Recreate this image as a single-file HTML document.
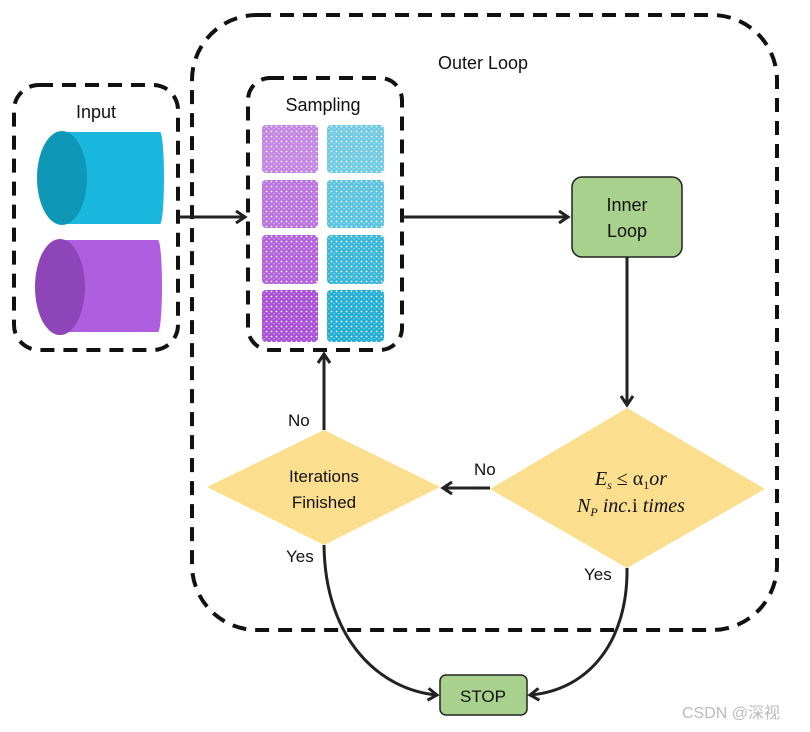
<!DOCTYPE html>
<html><head><style>
body{margin:0;background:#fff;width:810px;height:727px;overflow:hidden;font-family:"Liberation Sans",sans-serif}
</style></head><body>
<svg width="810" height="727" xmlns="http://www.w3.org/2000/svg">
<defs>
<marker id="a" markerWidth="14" markerHeight="14" refX="11" refY="7" orient="auto" markerUnits="userSpaceOnUse">
<path d="M2,1 L11,7 L2,13" fill="none" stroke="#222" stroke-width="3"/></marker>
<pattern id="pp" width="5" height="5" patternUnits="userSpaceOnUse"><rect width="5" height="5" fill="#a94fd6"/><circle cx="1.5" cy="1.5" r=".9" fill="#fff"/><circle cx="4" cy="3.8" r=".6" fill="#eedcf8"/></pattern>
<pattern id="pc" width="5" height="5" patternUnits="userSpaceOnUse"><rect width="5" height="5" fill="#22aed3"/><circle cx="1.5" cy="1.5" r=".9" fill="#fff"/><circle cx="4" cy="3.8" r=".6" fill="#d8f2fa"/></pattern>
</defs>
<g fill="none" stroke="#111" stroke-width="4" stroke-dasharray="14,9">
<rect x="192" y="15" width="585" height="615" rx="65"/>
<rect x="14" y="85" width="164" height="265" rx="25"/>
<rect x="248" y="78" width="154" height="272" rx="22"/>
</g>
<text x="483" y="69" font-size="18" text-anchor="middle" fill="#111">Outer Loop</text>
<text x="96" y="118" font-size="18" text-anchor="middle" fill="#111">Input</text>
<text x="323" y="111" font-size="18" text-anchor="middle" fill="#111">Sampling</text>
<rect x="62" y="132" width="98" height="92" fill="#1ab8de"/>
<ellipse cx="160" cy="178" rx="4" ry="46" fill="#1ab8de"/>
<ellipse cx="62" cy="178" rx="25" ry="47" fill="#0f97b8"/>
<rect x="60" y="240" width="98" height="92" fill="#b05ee0"/>
<ellipse cx="158" cy="286" rx="4" ry="46" fill="#b05ee0"/>
<ellipse cx="60" cy="287" rx="25" ry="48" fill="#8e45b8"/>
<g>
<rect x="262" y="125" width="56" height="48" rx="4" fill="url(#pp)" opacity=".7"/>
<rect x="262" y="180" width="56" height="48" rx="4" fill="url(#pp)" opacity=".8"/>
<rect x="262" y="235" width="56" height="49" rx="4" fill="url(#pp)" opacity=".9"/>
<rect x="262" y="290" width="56" height="52" rx="4" fill="url(#pp)"/>
<rect x="327" y="125" width="57" height="48" rx="4" fill="url(#pc)" opacity=".65"/>
<rect x="327" y="180" width="57" height="48" rx="4" fill="url(#pc)" opacity=".75"/>
<rect x="327" y="235" width="57" height="49" rx="4" fill="url(#pc)" opacity=".9"/>
<rect x="327" y="290" width="57" height="52" rx="4" fill="url(#pc)"/>
</g>
<rect x="572" y="177" width="110" height="80" rx="10" fill="#a9d18e" stroke="#222" stroke-width="1.5"/>
<text x="627" y="211" font-size="18" text-anchor="middle" fill="#111">Inner</text>
<text x="627" y="237" font-size="18" text-anchor="middle" fill="#111">Loop</text>
<polygon points="627,408 765,489 627,568 490,489" fill="#fbdf8e"/>
<polygon points="324,430 440,487 324,545 207,487" fill="#fbdf8e"/>
<text x="324" y="482" font-size="17" text-anchor="middle" fill="#111">Iterations</text>
<text x="324" y="508" font-size="17" text-anchor="middle" fill="#111">Finished</text>
<text x="631" y="485" font-size="20" text-anchor="middle" fill="#111" font-family="Liberation Serif,serif" font-style="italic">E<tspan font-size="12" dy="4">s</tspan><tspan dy="-4" font-style="normal"> ≤ α</tspan><tspan font-size="12" dy="4" font-style="normal">1</tspan><tspan dy="-4">or</tspan></text>
<text x="631" y="512" font-size="20" text-anchor="middle" fill="#111" font-family="Liberation Serif,serif" font-style="italic">N<tspan font-size="12" dy="4">P</tspan><tspan dy="-4"> inc.</tspan><tspan font-style="normal">i</tspan> times</text>
<rect x="440" y="675" width="87" height="40" rx="6" fill="#a9d18e" stroke="#222" stroke-width="1.5"/>
<text x="483" y="702" font-size="17" text-anchor="middle" fill="#111">STOP</text>
<g fill="none" stroke="#222" stroke-width="3" marker-end="url(#a)">
<line x1="178" y1="217" x2="245" y2="217"/>
<line x1="402" y1="217" x2="568" y2="217"/>
<line x1="627" y1="257" x2="627" y2="405"/>
<line x1="490" y1="488" x2="443" y2="488"/>
<line x1="324" y1="430" x2="324" y2="354"/>
<path d="M324,545 C325,640 380,690 437,695"/>
<path d="M627,568 C628,640 590,690 530,695"/>
</g>
<g font-size="17" fill="#111">
<text x="288" y="426">No</text>
<text x="474" y="475">No</text>
<text x="286" y="562">Yes</text>
<text x="584" y="580">Yes</text>
</g>
<text x="682" y="718" font-size="16" fill="#bbb" font-family="Liberation Sans,'Noto Sans CJK SC',sans-serif">CSDN @深视</text>
</svg>
</body></html>
